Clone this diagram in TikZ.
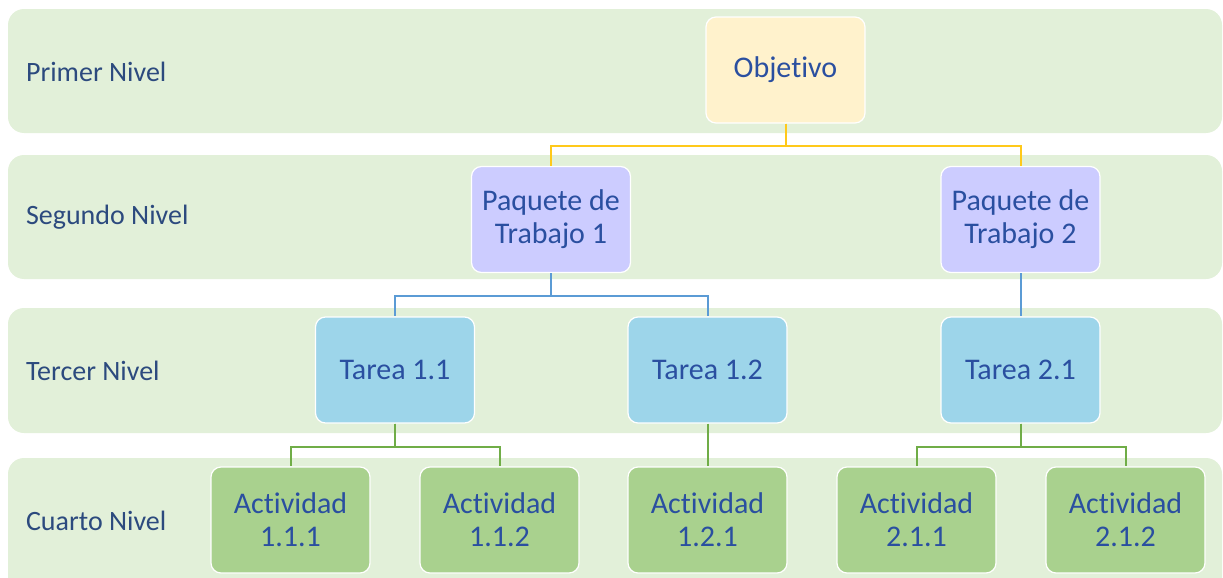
\documentclass[tikz,border=0pt]{standalone}
\usepackage{fontspec}
\setmainfont{Carlito}[Ligatures=NoCommon]
\usetikzlibrary{positioning}
\definecolor{fondo}{HTML}{E2F0D9}
\definecolor{textonivel}{HTML}{2C4A7E}
\definecolor{textocaja}{HTML}{2A4FA0}
\definecolor{amarillo}{HTML}{FFF2CC}
\definecolor{lila}{HTML}{CCCCFF}
\definecolor{celeste}{HTML}{9DD5EA}
\definecolor{verde}{HTML}{A9D18E}
\definecolor{lamarilla}{HTML}{FFC91A}
\definecolor{lazul}{HTML}{5B9BD5}
\definecolor{lverde}{HTML}{70AD47}

\begin{document}
\begin{tikzpicture}[x=0.5pt,y=-0.5pt,
		banda/.style={fill=fondo,rounded corners=8pt},
		nivel/.style={anchor=west,text=textonivel,font=\fontsize{14}{16}\selectfont},
		caja/.style={draw=white,line width=0.6pt,rounded corners=5pt,minimum width=79.5pt,minimum height=53pt,inner sep=1pt,align=center,text=textocaja,font=\fontsize{15}{16.5}\selectfont},
		rama/.style={line width=1pt}]
		
		\useasboundingbox (0,0) rectangle (1223,578);
		\clip (0,0) rectangle (1223,578);
		
%		bandas de niveles
		\path[banda] (8,9) rectangle (1222,133);
		\path[banda] (8,155) rectangle (1222,279);
		\path[banda] (8,308) rectangle (1222,433);
		\path[banda] (8,458) rectangle (1222,600);
		
		\node[nivel] (n1) at (19,72) {Primer Nivel};
		\node[nivel] (n2) at (19,217) {Segundo Nivel};
		\node[nivel] (n3) at (19,371) {Tercer Nivel};
		\node[nivel] (n4) at (19,521) {Cuarto Nivel};
		
%		primer nivel
		\node[caja,fill=amarillo] (obj) at (785.5,70) {Objetivo};
		
%		segundo nivel
		\node[caja,fill=lila] (pt1) at (551,219.5) {Paquete de\\Trabajo 1};
		\node[caja,fill=lila] (pt2) at (1020.5,219.5) {Paquete de\\Trabajo 2};
		
%		tercer nivel
		\node[caja,fill=celeste] (t11) at (395,370) {Tarea 1.1};
		\node[caja,fill=celeste] (t12) at (707.5,370) {Tarea 1.2};
		\node[caja,fill=celeste] (t21) at (1020.5,370) {Tarea 2.1};
		
%		cuarto nivel
		\node[caja,fill=verde] (a111) at (290.5,520) {Actividad\\1.1.1};
		\node[caja,fill=verde] (a112) at (499.5,520) {Actividad\\1.1.2};
		\node[caja,fill=verde] (a121) at (707.5,520) {Actividad\\1.2.1};
		\node[caja,fill=verde] (a211) at (916.5,520) {Actividad\\2.1.1};
		\node[caja,fill=verde] (a212) at (1125.5,520) {Actividad\\2.1.2};
		
%		conectores
		\draw[rama,lamarilla] (obj.south) -- ++(0,22) -| (pt1.north);
		\draw[rama,lamarilla] (obj.south) -- ++(0,22) -| (pt2.north);
		
		\draw[rama,lazul] (pt1.south) -- ++(0,23) -| (t11.north);
		\draw[rama,lazul] (pt1.south) -- ++(0,23) -| (t12.north);
		\draw[rama,lazul] (pt2.south) -- (t21.north);
		
		\draw[rama,lverde] (t11.south) -- ++(0,23) -| (a111.north);
		\draw[rama,lverde] (t11.south) -- ++(0,23) -| (a112.north);
		\draw[rama,lverde] (t12.south) -- (a121.north);
		\draw[rama,lverde] (t21.south) -- ++(0,23) -| (a211.north);
		\draw[rama,lverde] (t21.south) -- ++(0,23) -| (a212.north);
		\end{tikzpicture}
\end{document}
